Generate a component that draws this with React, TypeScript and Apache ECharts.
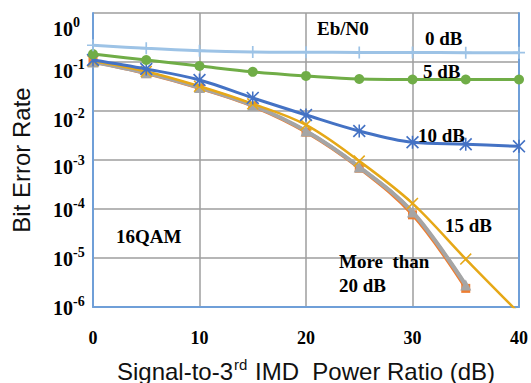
import React, { useEffect, useRef } from "react";
import * as echarts from "echarts";

const xs = [0, 5, 10, 15, 20, 25, 30, 35, 40];
const ber0dB = [0.22, 0.19, 0.17, 0.16, 0.158, 0.157, 0.156, 0.155, 0.155];
const ber5dB = [0.145, 0.11, 0.083, 0.063, 0.052, 0.045, 0.044, 0.044, 0.044];
const ber10dB = [0.11, 0.072, 0.043, 0.0185, 0.0083, 0.0039, 0.0023, 0.0021, 0.0019];
const ber15dB = [0.105, 0.064, 0.032, 0.014, 0.0052, 0.00095, 0.00013, 0.0000095, 0.00000075];
const ber20dB = [0.1, 0.058, 0.029, 0.0125, 0.0037, 0.00068, 0.000076, 0.0000024];
const ber25dB = [0.1, 0.06, 0.03, 0.013, 0.0039, 0.00072, 0.000087, 0.0000028];
const ber30dB = [0.102, 0.061, 0.031, 0.0133, 0.0041, 0.00076, 0.000092, 0.000003];

const xTicks = [0, 10, 20, 30, 40];
// exponents of the y tick labels, split over two label layers so that they never collide
const yExpA = [0, -2, -4, -6];
const yExpB = [-1, -3, -5];
// spacer heights pushing each y tick label below its gridline, for 10^0 .. 10^-6
const yLabelGap = [32, 18, 17, 14, 1, 2, 1];

const annotations = [
  { text: "Eb/N0", x: 317, y: 28 },
  { text: "0 dB", x: 425, y: 38 },
  { text: "5 dB", x: 423, y: 71 },
  { text: "10 dB", x: 418, y: 135 },
  { text: "15 dB", x: 445, y: 225 },
  { text: "More  than", x: 339, y: 261 },
  { text: "20 dB", x: 339, y: 285 },
  { text: "16QAM", x: 116, y: 236 },
];

const plusPath = "path://M4.3,0H5.7V4.3H10V5.7H5.7V10H4.3V5.7H0V4.3H4.3Z";
const xPath =
  "path://M0,0.9L0.9,0L5,4.1L9.1,0L10,0.9L5.9,5L10,9.1L9.1,10L5,5.9L0.9,10L0,9.1L4.1,5Z";
const starPath =
  "path://M0,0.9L0.9,0L5,4.1L9.1,0L10,0.9L5.9,5L10,9.1L9.1,10L5,5.9L0.9,10L0,9.1L4.1,5ZM4.4,0H5.6V10H4.4Z";

const SERIF = "Liberation Serif";
const SANS = "Liberation Sans";
const BLUE_AXIS = "#6f9fd8";
const GRID_GRAY = "#9e9e9e";

function pairs(arr: number[]) {
  return arr.map((v, i) => [xs[i], v]);
}

export default function App() {
  const ref = useRef<HTMLDivElement>(null);
  useEffect(() => {
    if (!ref.current) return;
    const chart = echarts.init(ref.current, null, { renderer: "svg" });

    const rich: any = {
      b: { fontFamily: SERIF, fontWeight: "bold", fontSize: 20, lineHeight: 22, color: "#000" },
      s: { fontFamily: SERIF, fontWeight: "bold", fontSize: 14, lineHeight: 14, color: "#000", padding: [0, 0, 13, 0] },
    };
    yLabelGap.forEach((g, i) => {
      rich["g" + i] = { fontSize: 1, lineHeight: g, height: g };
    });

    const labelFormatter = (allowed: number[]) => (v: number) => {
      const e = Math.round(Math.log10(v));
      if (Math.abs(Math.log10(v) - e) > 1e-6 || !allowed.includes(e)) return "";
      return `{g${-e}| }\n{b|10}{s|${e}}`;
    };

    const mkLine = (
      name: string,
      data: number[],
      color: string,
      width: number,
      symbol: string,
      symbolSize: number,
      z: number
    ) => ({
      name,
      type: "line",
      data: pairs(data),
      smooth: 0.35,
      symbol,
      symbolSize,
      showSymbol: symbol !== "none",
      z,
      lineStyle: { color, width },
      itemStyle: { color, borderWidth: 0 },
      emphasis: { disabled: true },
    });

    const logBase = {
      type: "log",
      logBase: 10,
      min: 1e-6,
      max: 1,
      splitNumber: 6,
    };

    chart.setOption({
      animation: false,
      grid: { left: 93, right: 12, top: 13, bottom: 76, containLabel: false, outerBoundsMode: "none" },
      xAxis: [
        {
          type: "value",
          min: 0,
          max: 40,
          interval: 10,
          z: 0,
          axisLine: { show: false },
          axisTick: { show: false },
          splitLine: { show: true, lineStyle: { color: GRID_GRAY, width: 1.5 } },
          axisLabel: {
            margin: 22,
            fontFamily: SERIF,
            fontWeight: "bold",
            fontSize: 18,
            color: "#000",
            showMinLabel: true,
            showMaxLabel: true,
            formatter: (v: number) => (xTicks.includes(v) ? String(v) : ""),
          },
          name: "{t|Signal-to-3}{u|rd}{t| IMD  Power Ratio (dB)}",
          nameLocation: "middle",
          nameGap: 51,
          nameTextStyle: {
            rich: {
              t: { fontFamily: SANS, fontSize: 24, color: "#111", lineHeight: 26 },
              u: { fontFamily: SANS, fontSize: 15, color: "#111", lineHeight: 15, padding: [0, 1, 13, 1] },
            },
          },
        },
        {
          type: "value",
          position: "bottom",
          min: 0,
          max: 40,
          interval: 10,
          z: 1.5,
          axisLine: { show: true, onZero: false, lineStyle: { color: BLUE_AXIS, width: 2 } },
          axisTick: { show: false },
          axisLabel: { show: false },
          splitLine: { show: false },
        },
      ],
      yAxis: [
        {
          ...logBase,
          z: 1,
          axisLine: { show: true, onZero: false, lineStyle: { color: BLUE_AXIS, width: 2 } },
          axisTick: { show: false },
          splitLine: { show: true, lineStyle: { color: GRID_GRAY, width: 1.5 } },
          axisLabel: {
            margin: 40,
            align: "left",
            rich,
            showMinLabel: true,
            showMaxLabel: true,
            hideOverlap: false,
            formatter: labelFormatter(yExpA),
          },
          name: "Bit Error Rate",
          nameLocation: "middle",
          nameGap: 60,
          nameMoveOverlap: false,
          nameTextStyle: { fontFamily: SANS, fontSize: 24, color: "#111" },
        },
        {
          ...logBase,
          position: "left",
          z: 1,
          axisLine: { show: false },
          axisTick: { show: false },
          splitLine: { show: false },
          axisLabel: {
            margin: 40,
            align: "left",
            rich,
            showMinLabel: false,
            showMaxLabel: false,
            hideOverlap: false,
            formatter: labelFormatter(yExpB),
          },
        },
        {
          ...logBase,
          position: "right",
          z: 1.5,
          axisLine: { show: true, onZero: false, lineStyle: { color: BLUE_AXIS, width: 2 } },
          axisTick: { show: false },
          axisLabel: { show: false },
          splitLine: { show: false },
        },
      ],
      series: [
        mkLine("20 dB", ber20dB, "#ed7d31", 3, "rect", 9, 3),
        mkLine("30 dB", ber30dB, "#5b9bd5", 1.5, "none", 0, 3),
        mkLine("25 dB", ber25dB, "#a5a5a5", 4, "triangle", 11, 4),
        mkLine("15 dB", ber15dB, "#e6a817", 2.5, xPath, 12, 5),
        mkLine("10 dB", ber10dB, "#4472c4", 3, starPath, 13, 6),
        mkLine("5 dB", ber5dB, "#70ad47", 3, "circle", 10, 7),
        mkLine("0 dB", ber0dB, "#9dc3e6", 3, plusPath, 12, 8),
      ],
      graphic: annotations.map((a) => ({
        type: "text",
        x: a.x,
        y: a.y,
        z: 100,
        style: {
          text: a.text,
          fill: "#000",
          font: `bold 19px "${SERIF}"`,
          verticalAlign: "middle",
          align: "left",
        },
      })),
    });
    return () => chart.dispose();
  }, []);
  return (
    <div
      ref={ref}
      style={{ position: "fixed", left: 0, top: 0, width: 531, height: 383, background: "#fff" }}
    />
  );
}
